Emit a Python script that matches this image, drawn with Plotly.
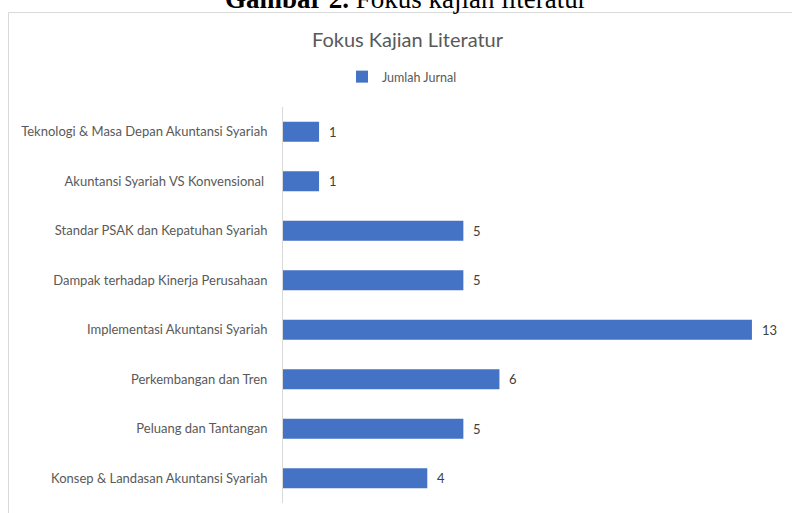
import plotly.graph_objects as go

# Data (bottom to top order as drawn on the category axis)
categories = [
    "Konsep & Landasan Akuntansi Syariah",
    "Peluang dan Tantangan",
    "Perkembangan dan Tren",
    "Implementasi Akuntansi Syariah",
    "Dampak terhadap Kinerja Perusahaan",
    "Standar PSAK dan Kepatuhan Syariah",
    "Akuntansi Syariah VS Konvensional ",
    "Teknologi & Masa Depan Akuntansi Syariah",
]
jumlah_jurnal = [4, 5, 6, 13, 5, 5, 1, 1]
series_name = "Jumlah Jurnal"
chart_title = "Fokus Kajian Literatur"
caption = "<b>Gambar 2.</b> Fokus kajian literatur"

W, H = 792, 513
ML, MR, MT, MB = 283, 4, 107, 10
plot_w = W - ML - MR
plot_h = H - MT - MB

FONT = "Lato"
GREY = "#595959"

fig = go.Figure()
fig.add_trace(go.Bar(
    x=jumlah_jurnal,
    y=categories,
    orientation="h",
    name=series_name,
    marker=dict(color="#4472C4", line=dict(width=0)),
    showlegend=True,
))

annotations = []
for c, v in zip(categories, jumlah_jurnal):
    annotations.append(dict(
        x=v, y=c, xref="x", yref="y", text=str(v), showarrow=False,
        xanchor="left", yanchor="middle", xshift=8,
        font=dict(family=FONT, size=13, color="#404040"),
    ))

# Caption above the chart (partly cut off at the top of the image)
annotations.append(dict(
    x=(405.5 - ML) / plot_w, y=1 + (MT - 16) / plot_h, xref="paper", yref="paper",
    text=caption, showarrow=False, xanchor="center", yanchor="bottom",
    font=dict(family="Liberation Serif", size=27, color="black"),
))

shapes = [dict(
    type="rect", xref="paper", yref="paper",
    x0=(8.5 - ML) / plot_w, x1=1.05, y0=-0.1, y1=1 + (MT - 12.5) / plot_h,
    line=dict(color="#D9D9D9", width=1), fillcolor="rgba(0,0,0,0)", layer="below",
)]

fig.update_layout(
    width=W, height=H,
    margin=dict(l=ML, r=MR, t=MT, b=MB, pad=0),
    paper_bgcolor="white", plot_bgcolor="white",
    bargap=0.595,
    title=dict(text=chart_title, x=407.5 / W, xanchor="center", xref="container",
               y=1 - 40 / H, yanchor="middle", yref="container",
               font=dict(family=FONT, size=20, color=GREY)),
    legend=dict(orientation="h", x=402 / W, xanchor="center", xref="container",
                y=1 - 77 / H, yanchor="middle", yref="container",
                font=dict(family=FONT, size=12.5, color=GREY),
                itemwidth=30, bgcolor="rgba(0,0,0,0)"),
    xaxis=dict(range=[0, 14], visible=False, showgrid=False, zeroline=False),
    yaxis=dict(showline=True, linecolor="#D9D9D9", linewidth=1, ticks="",
               showgrid=False, ticklabelstandoff=12,
               tickfont=dict(family=FONT, size=13, color=GREY)),
    annotations=annotations,
    shapes=shapes,
    font=dict(family=FONT),
)

fig.write_html("out.html", config={"displayModeBar": False},
               post_script="document.body.style.margin='0';")
